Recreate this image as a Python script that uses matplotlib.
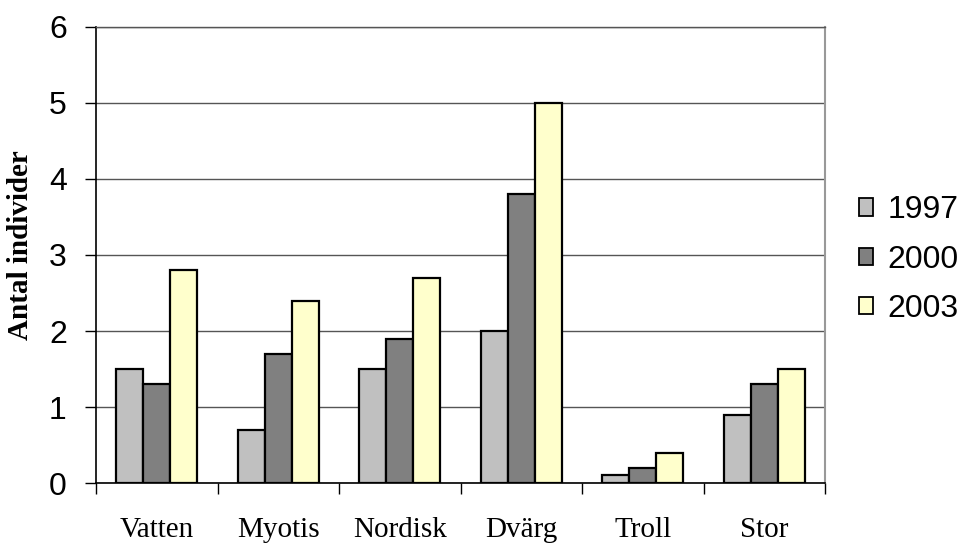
import matplotlib
matplotlib.use("Agg")
import matplotlib.pyplot as plt
import numpy as np

categories = ["Vatten", "Myotis", "Nordisk", "Dvärg", "Troll", "Stor"]
years = ["1997", "2000", "2003"]
v1997 = [1.5, 0.7, 1.5, 2.0, 0.1, 0.9]
v2000 = [1.3, 1.7, 1.9, 3.8, 0.2, 1.3]
v2003 = [2.8, 2.4, 2.7, 5.0, 0.4, 1.5]
series = [v1997, v2000, v2003]
colors = ["#C0C0C0", "#808080", "#FFFFCC"]
yticks = [0, 1, 2, 3, 4, 5, 6]

fig = plt.figure(figsize=(9.61, 5.44), dpi=100)
ax = fig.add_axes([0.0999, 0.1121, 0.7586, 0.8383])

n = len(categories)
x = np.arange(n)
w = 1 / 4.5
for i, (vals, c, lab) in enumerate(zip(series, colors, years)):
    ax.bar(x + (i - 1) * w, vals, width=w, color=c, edgecolor="black",
           linewidth=1.6, label=lab, zorder=3)

ax.set_xlim(-0.5, n - 0.5)
ax.set_ylim(0, 6)
ax.set_yticks(yticks)
ax.set_yticklabels([str(t) for t in yticks], fontfamily="Liberation Sans", fontsize=23)
ax.yaxis.grid(True, color="#555555", linewidth=1.0, zorder=0)
ax.tick_params(axis="y", direction="out", length=8, width=1, pad=13)

ax.set_xticks(x)
ax.set_xticklabels(categories, fontfamily="Liberation Serif", fontsize=21)
ax.tick_params(axis="x", which="major", length=0, pad=24.5)
ax.set_xticks(np.arange(-0.5, n, 1.0), minor=True)
ax.tick_params(axis="x", which="minor", direction="out", length=8, width=1)

for s in ["left", "bottom"]:
    ax.spines[s].set_color("black")
    ax.spines[s].set_linewidth(1.2)
ax.spines["top"].set_color("#555555")
ax.spines["top"].set_linewidth(1.0)
ax.spines["right"].set_color("#999999")
ax.spines["right"].set_linewidth(1.5)
ax.set_axisbelow(True)

fig.text(0.021, 0.55, "Antal individer", rotation=90, ha="center", va="center",
         fontfamily="Liberation Serif", fontweight="bold", fontsize=21)

leg = ax.legend(loc="center left", bbox_to_anchor=(1.046, 0.49), frameon=False,
                prop={"family": "Liberation Sans", "size": 23},
                handlelength=0.45, handleheight=0.45, handletextpad=0.45,
                labelspacing=0.6, borderpad=0, borderaxespad=0)
for h in leg.legend_handles:
    h.set_linewidth(1.3)

fig.savefig("out.png", dpi=100)
